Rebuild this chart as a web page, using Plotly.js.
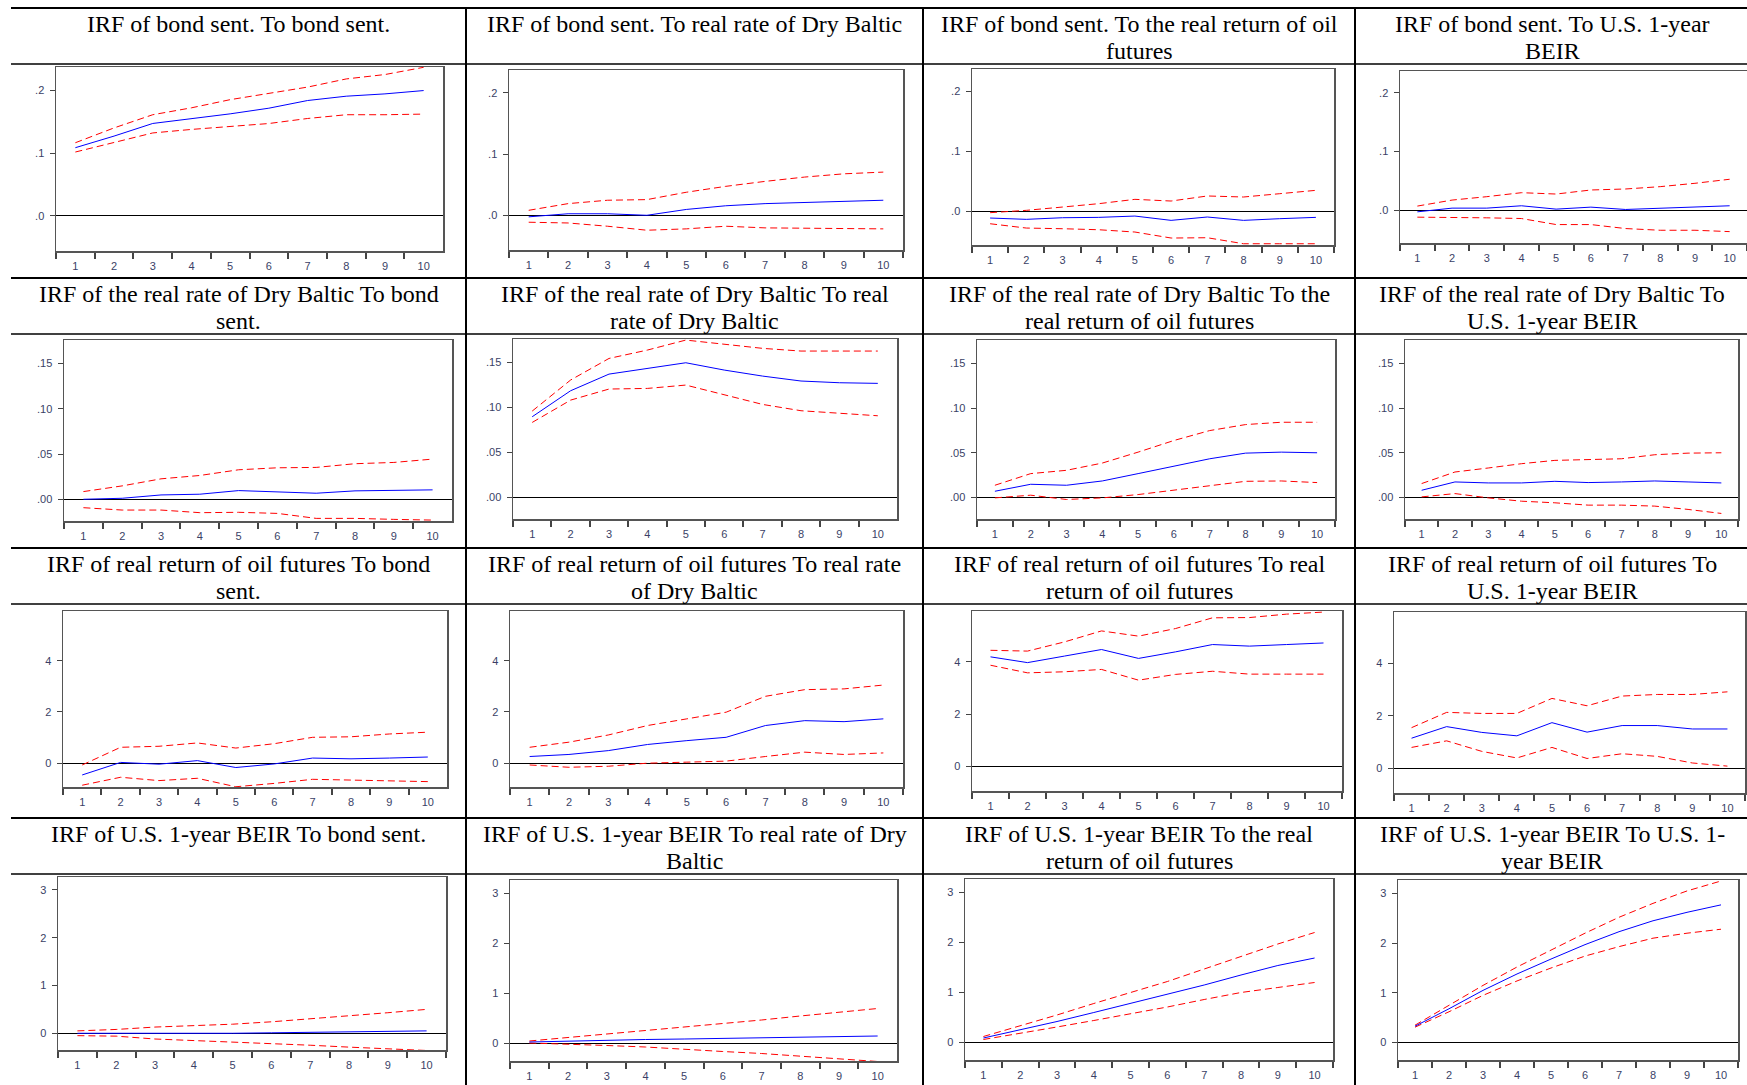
<!DOCTYPE html>
<html><head><meta charset="utf-8">
<script src="https://cdn.plot.ly/plotly-3.0.1.min.js"></script>
<style>html,body{margin:0;padding:0;background:#fff;overflow:hidden}#chart{width:1747px;height:1085px}</style>
</head><body><div id="chart"></div>
<script>
// ---------------- DATA ----------------
const horizons = ['1','2','3','4','5','6','7','8','9','10'];

// Row 1: IRF of bond sent.
const bondToBond_irf = [0.1085,0.1270,0.1471,0.1545,0.1624,0.1714,0.1836,0.1905,0.1942,0.1995];
const bondToBond_up  = [0.1164,0.1400,0.1610,0.1720,0.1850,0.1950,0.2050,0.2180,0.2250,0.2365];
const bondToBond_lo  = [0.1016,0.1164,0.1320,0.1376,0.1418,0.1470,0.1550,0.1610,0.1610,0.1620];

const bondToDry_irf = [-0.0020,0.0030,0.0030,0.0005,0.0100,0.0160,0.0195,0.0216,0.0240,0.0250];
const bondToDry_up  = [0.0086,0.0195,0.0250,0.0260,0.0380,0.0476,0.0557,0.0627,0.0680,0.0708];
const bondToDry_lo  = [-0.0108,-0.0120,-0.0173,-0.0238,-0.0216,-0.0173,-0.0200,-0.0205,-0.0205,-0.0216];

const bondToOil_irf = [-0.0111,-0.0133,-0.0106,-0.0100,-0.0078,-0.0150,-0.0094,-0.0150,-0.0122,-0.0100];
const bondToOil_up  = [-0.0022,0.0017,0.0072,0.0128,0.0200,0.0172,0.0256,0.0239,0.0294,0.0350];
const bondToOil_lo  = [-0.0206,-0.0278,-0.0289,-0.0306,-0.0344,-0.0444,-0.0439,-0.0539,-0.0539,-0.0539];

const bondToBeir_irf = [-0.0029,0.0034,0.0034,0.0074,0.0017,0.0051,0.0011,0.0029,0.0051,0.0074];
const bondToBeir_up  = [0.0069,0.0171,0.0229,0.0297,0.0274,0.0343,0.0360,0.0400,0.0457,0.0526];
const bondToBeir_lo  = [-0.0120,-0.0120,-0.0131,-0.0143,-0.0246,-0.0246,-0.0314,-0.0343,-0.0343,-0.0366];

// Row 2: IRF of the real rate of Dry Baltic
const dryToBond_irf = [0.0000,0.0011,0.0048,0.0056,0.0096,0.0085,0.0067,0.0093,0.0096,0.0104];
const dryToBond_up  = [0.0085,0.0148,0.0226,0.0263,0.0326,0.0348,0.0352,0.0393,0.0407,0.0444];
const dryToBond_lo  = [-0.0093,-0.0119,-0.0119,-0.0148,-0.0144,-0.0156,-0.0211,-0.0211,-0.0222,-0.0230];

const dryToDry_irf = [0.0896,0.1185,0.1370,0.1433,0.1496,0.1415,0.1348,0.1293,0.1274,0.1267];
const dryToDry_up  = [0.0959,0.1304,0.1544,0.1637,0.1748,0.1704,0.1656,0.1626,0.1626,0.1626];
const dryToDry_lo  = [0.0833,0.1081,0.1204,0.1211,0.1248,0.1137,0.1033,0.0963,0.0933,0.0907];

const dryToOil_irf = [0.0070,0.0148,0.0137,0.0185,0.0267,0.0348,0.0433,0.0496,0.0507,0.0500];
const dryToOil_up  = [0.0137,0.0267,0.0304,0.0385,0.0507,0.0637,0.0748,0.0815,0.0841,0.0841];
const dryToOil_lo  = [-0.0004,0.0026,-0.0022,-0.0004,0.0033,0.0081,0.0137,0.0181,0.0185,0.0167];

const dryToBeir_irf = [0.0081,0.0174,0.0163,0.0163,0.0181,0.0167,0.0174,0.0185,0.0174,0.0163];
const dryToBeir_up  = [0.0156,0.0285,0.0330,0.0378,0.0415,0.0426,0.0433,0.0478,0.0496,0.0500];
const dryToBeir_lo  = [0.0007,0.0044,-0.0004,-0.0041,-0.0059,-0.0085,-0.0085,-0.0096,-0.0133,-0.0178];

// Row 3: IRF of real return of oil futures
const oilToBond_irf = [-0.46,0.03,-0.04,0.10,-0.17,-0.03,0.20,0.17,0.20,0.24];
const oilToBond_up  = [-0.07,0.62,0.66,0.79,0.59,0.76,1.01,1.03,1.14,1.21];
const oilToBond_lo  = [-0.86,-0.55,-0.68,-0.59,-0.92,-0.79,-0.63,-0.66,-0.70,-0.72];

const oilToDry_irf = [0.26,0.34,0.49,0.73,0.88,1.01,1.47,1.66,1.62,1.73];
const oilToDry_up  = [0.62,0.82,1.10,1.47,1.73,1.99,2.61,2.87,2.90,3.05];
const oilToDry_lo  = [-0.07,-0.16,-0.12,0.00,0.04,0.08,0.26,0.43,0.34,0.40];

const oilToOil_irf = [4.19,3.97,4.22,4.47,4.13,4.38,4.66,4.60,4.66,4.72];
const oilToOil_up  = [4.44,4.41,4.76,5.18,4.98,5.27,5.68,5.69,5.82,5.90];
const oilToOil_lo  = [3.87,3.58,3.62,3.71,3.30,3.52,3.64,3.53,3.53,3.53];

const oilToBeir_irf = [1.15,1.59,1.37,1.24,1.74,1.38,1.63,1.63,1.50,1.50];
const oilToBeir_up  = [1.55,2.13,2.09,2.09,2.66,2.38,2.75,2.81,2.81,2.91];
const oilToBeir_lo  = [0.80,1.05,0.65,0.40,0.80,0.38,0.56,0.46,0.21,0.09];

// Row 4: IRF of U.S. 1-year BEIR
const beirToBond_irf = [0.00,0.00,-0.01,0.00,0.00,0.01,0.02,0.03,0.04,0.05];
const beirToBond_up  = [0.05,0.08,0.13,0.16,0.19,0.24,0.30,0.36,0.43,0.50];
const beirToBond_lo  = [-0.05,-0.06,-0.12,-0.15,-0.19,-0.22,-0.25,-0.29,-0.32,-0.36];

const beirToDry_irf = [0.03,0.05,0.06,0.08,0.09,0.10,0.12,0.13,0.14,0.15];
const beirToDry_up  = [0.05,0.12,0.18,0.25,0.32,0.39,0.47,0.55,0.62,0.70];
const beirToDry_lo  = [0.01,-0.01,-0.04,-0.07,-0.12,-0.16,-0.20,-0.25,-0.30,-0.36];

const beirToOil_irf = [0.09,0.25,0.42,0.60,0.78,0.96,1.15,1.35,1.54,1.69];
const beirToOil_up  = [0.12,0.33,0.55,0.78,1.00,1.22,1.47,1.72,1.97,2.20];
const beirToOil_lo  = [0.06,0.18,0.31,0.44,0.57,0.71,0.86,1.00,1.10,1.20];

const beirToBeir_irf = [0.33,0.68,1.05,1.38,1.68,1.97,2.23,2.45,2.62,2.77];
const beirToBeir_up  = [0.35,0.75,1.15,1.52,1.86,2.20,2.52,2.80,3.05,3.25];
const beirToBeir_lo  = [0.31,0.62,0.95,1.24,1.50,1.74,1.93,2.10,2.20,2.28];

// Panel titles (line breaks as in the source table)
const titles = [
  ['IRF of bond sent. To bond sent.'],
  ['IRF of bond sent. To real rate of Dry Baltic'],
  ['IRF of bond sent. To the real return of oil','futures'],
  ['IRF of bond sent. To U.S. 1-year','BEIR'],
  ['IRF of the real rate of Dry Baltic To bond','sent.'],
  ['IRF of the real rate of Dry Baltic To real','rate of Dry Baltic'],
  ['IRF of the real rate of Dry Baltic To the','real return of oil futures'],
  ['IRF of the real rate of Dry Baltic To','U.S. 1-year BEIR'],
  ['IRF of real return of oil futures To bond','sent.'],
  ['IRF of real return of oil futures To real rate','of Dry Baltic'],
  ['IRF of real return of oil futures To real','return of oil futures'],
  ['IRF of real return of oil futures To','U.S. 1-year BEIR'],
  ['IRF of U.S. 1-year BEIR To bond sent.'],
  ['IRF of U.S. 1-year BEIR To real rate of Dry','Baltic'],
  ['IRF of U.S. 1-year BEIR To the real','return of oil futures'],
  ['IRF of U.S. 1-year BEIR To U.S. 1-','year BEIR']
];

// Y tick values / labels per row
const row1TickVals = [0, 0.1, 0.2];        const row1TickText = ['.0', '.1', '.2'];
const row2TickVals = [0, 0.05, 0.10, 0.15]; const row2TickText = ['.00', '.05', '.10', '.15'];
const row3TickVals = [0, 2, 4];             const row3TickText = ['0', '2', '4'];
const row4TickVals = [0, 1, 2, 3];          const row4TickText = ['0', '1', '2', '3'];

// ---------------- BUILD ----------------
const series = [
  [bondToBond_irf,bondToBond_up,bondToBond_lo],[bondToDry_irf,bondToDry_up,bondToDry_lo],
  [bondToOil_irf,bondToOil_up,bondToOil_lo],[bondToBeir_irf,bondToBeir_up,bondToBeir_lo],
  [dryToBond_irf,dryToBond_up,dryToBond_lo],[dryToDry_irf,dryToDry_up,dryToDry_lo],
  [dryToOil_irf,dryToOil_up,dryToOil_lo],[dryToBeir_irf,dryToBeir_up,dryToBeir_lo],
  [oilToBond_irf,oilToBond_up,oilToBond_lo],[oilToDry_irf,oilToDry_up,oilToDry_lo],
  [oilToOil_irf,oilToOil_up,oilToOil_lo],[oilToBeir_irf,oilToBeir_up,oilToBeir_lo],
  [beirToBond_irf,beirToBond_up,beirToBond_lo],[beirToDry_irf,beirToDry_up,beirToDry_lo],
  [beirToOil_irf,beirToOil_up,beirToOil_lo],[beirToBeir_irf,beirToBeir_up,beirToBeir_lo]
];
const rowTicks = [[row1TickVals,row1TickText],[row2TickVals,row2TickText],[row3TickVals,row3TickText],[row4TickVals,row4TickText]];

// layout geometry (pixels)
const W = 1747, H = 1085;
const rowRanges = [[-0.056,0.237],[-0.024,0.176],[-0.93,5.94],[-0.35,3.27]];
// frame boxes [left,right,top,bottom] in px
const frames = [
  [56,443,67,251],[509,903,70,250],[972,1334,69,245],[1400,1749,71,243],
  [64,452,340,521],[513,897,339,519],[977,1335,340,519],[1405,1738,340,519],
  [63,447,611,787],[510,903,611,787],[972,1342,611,791],[1394,1745,612,793],
  [58,446,877,1050],[510,897,880,1061],[965,1333,879,1060],[1398,1738,880,1060]
];
const colCenters = [238.5, 694.5, 1139, 1552];
const rowTops = [8, 278, 548, 818];

const px = x => Math.min(1, Math.max(0, x / W));
const py = y => Math.min(1, Math.max(0, 1 - y / H));

const tickFont = {family: 'Liberation Sans, Arial, sans-serif', size: 11, color: '#3a3f66'};
const layout = {
  width: W, height: H, margin: {l:0, r:0, t:0, b:0},
  paper_bgcolor: '#fff', plot_bgcolor: '#fff', showlegend: false, hovermode: false,
  shapes: [], annotations: []
};
const data = [];

for (let k = 0; k < 16; k++) {
  const r = Math.floor(k / 4), c = k % 4;
  const f = frames[k];
  const sfx = k === 0 ? '' : String(k + 1);
  layout['xaxis' + sfx] = {
    domain: [px(f[0]), px(f[1])], anchor: 'y' + sfx,
    type: 'category', categoryorder: 'array', categoryarray: horizons, range: [-0.5, 9.5],
    tickson: 'boundaries', ticks: 'outside', ticklen: 6, tickwidth: 2, tickcolor: '#444',
    ticklabelstandoff: 4,
    showline: true, mirror: true, linecolor: '#555', linewidth: 1.5,
    showgrid: false, zeroline: false, tickfont: tickFont, fixedrange: true
  };
  layout['yaxis' + sfx] = {
    domain: [py(f[3]), py(f[2])], anchor: 'x' + sfx,
    range: rowRanges[r], tickmode: 'array', tickvals: rowTicks[r][0], ticktext: rowTicks[r][1],
    ticks: 'outside', ticklen: 5, tickwidth: 1, tickcolor: '#444', ticklabelstandoff: 3,
    showline: true, mirror: true, linecolor: '#555', linewidth: 1.5,
    showgrid: false, zeroline: true, zerolinecolor: '#000', zerolinewidth: 1,
    tickfont: tickFont, fixedrange: true
  };
  const [mid, up, lo] = series[k];
  const xa = 'x' + sfx, ya = 'y' + sfx;
  data.push({x: horizons, y: up, xaxis: xa, yaxis: ya, mode: 'lines', line: {color: '#ff0000', width: 1, dash: '7px,4px'}});
  data.push({x: horizons, y: lo, xaxis: xa, yaxis: ya, mode: 'lines', line: {color: '#ff0000', width: 1, dash: '7px,4px'}});
  data.push({x: horizons, y: mid, xaxis: xa, yaxis: ya, mode: 'lines', line: {color: '#0000ff', width: 1}});

  titles[k].forEach((t, i) => {
    layout.annotations.push({
      xref: 'paper', yref: 'paper', x: px(colCenters[c]), y: py(rowTops[r] + 16 + 27 * i),
      xanchor: 'center', yanchor: 'middle', showarrow: false, text: t,
      font: {family: 'Liberation Serif, Times New Roman, serif', size: 24, color: '#000'}
    });
  });
}

// table rules
const hLines = [[8,2],[64,1.5],[278,2],[334,1.5],[548,2],[604,1.5],[818,2],[874,1.5]];
hLines.forEach(([y, w]) => layout.shapes.push({type:'line', xref:'paper', yref:'paper', x0: px(11), x1: 1, y0: py(y), y1: py(y), line:{color:'#000', width:w}, layer:'above'}));
[466, 923, 1355].forEach(x => layout.shapes.push({type:'line', xref:'paper', yref:'paper', x0: px(x), x1: px(x), y0: py(8), y1: 0, line:{color:'#000', width:2}, layer:'above'}));

Plotly.newPlot('chart', data, layout, {staticPlot: true, displayModeBar: false});
</script></body></html>
